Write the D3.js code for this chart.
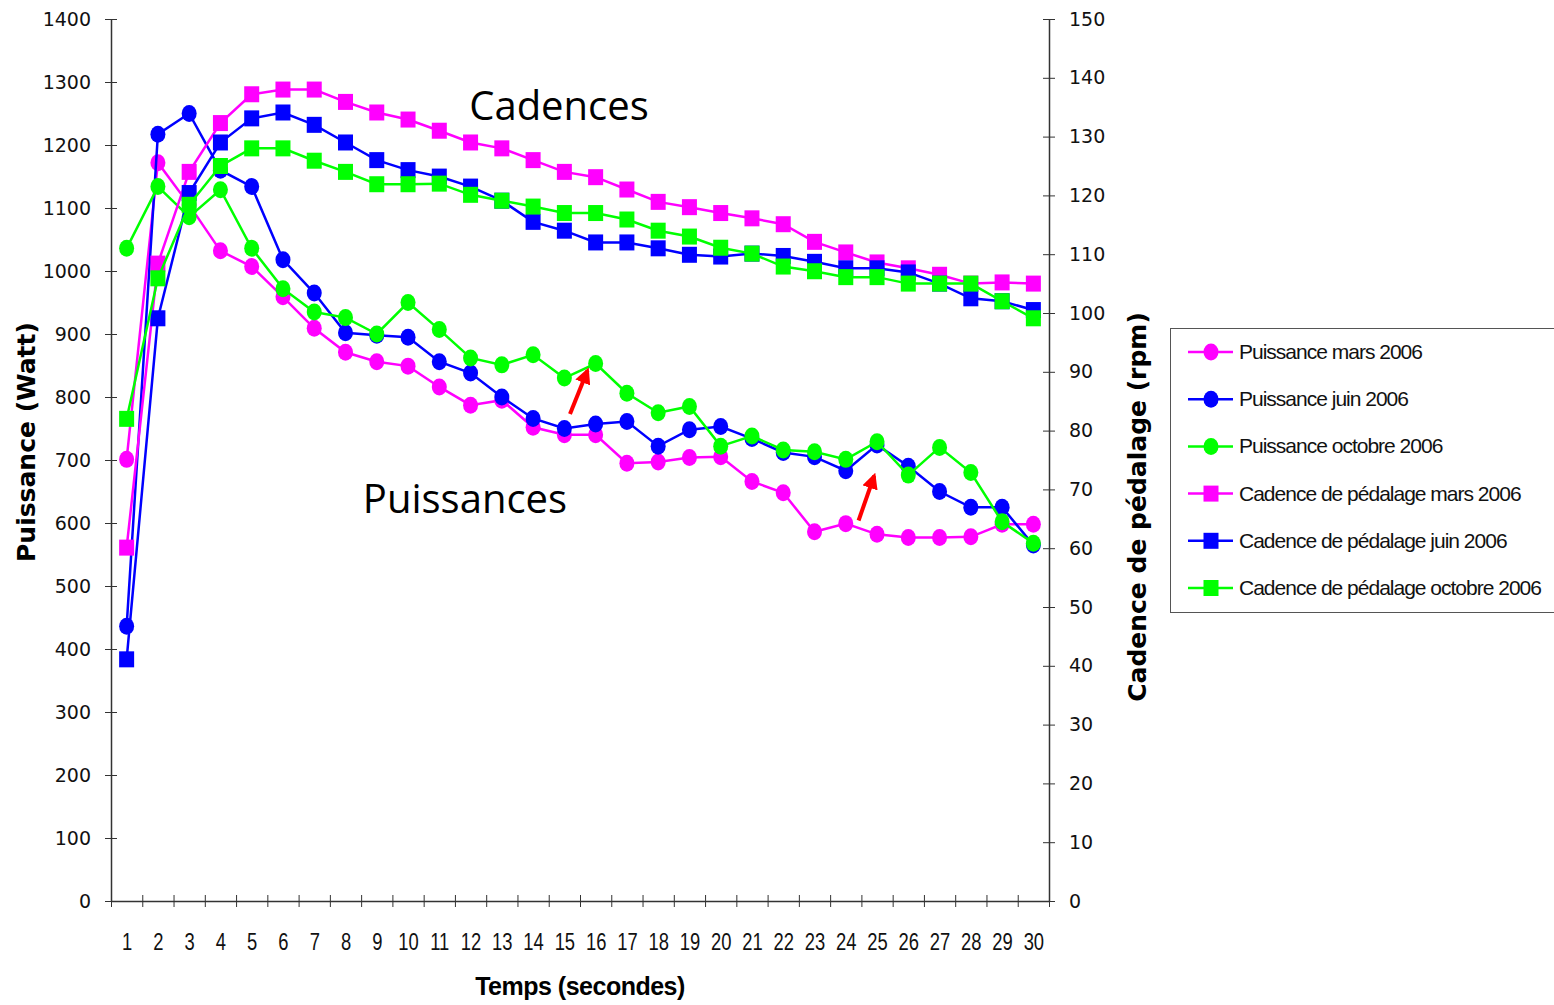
<!DOCTYPE html>
<html>
<head>
<meta charset="utf-8">
<script src="https://cdn.jsdelivr.net/npm/d3@7"></script>
<style>
  body { margin: 0; background: #fff; }
</style>
</head>
<body>
<div id="chart"></div>
<script>
// Temps (secondes)
const times = d3.range(1, 31);

// Puissance (Watt) - left axis
const puissanceMars = [701, 1172, 1105, 1032, 1007, 959, 909, 871, 856, 849, 816, 787, 795, 752, 740, 740, 695, 697, 704, 705, 666, 648, 586, 599, 582, 577, 577, 578, 598, 598];
const puissanceJuin = [436, 1217, 1250, 1160, 1134, 1018, 965, 902, 898, 895, 856, 838, 800, 766, 750, 757, 761, 722, 748, 753, 734, 712, 705, 683, 724, 690, 650, 625, 625, 565];
const puissanceOctobre = [1036, 1134, 1086, 1129, 1036, 972, 935, 926, 900, 950, 907, 862, 851, 867, 830, 853, 806, 775, 785, 722, 738, 716, 713, 701, 729, 676, 720, 680, 602, 568];

// Cadence de pédalage (rpm) - right axis
const cadenceMars = [60.1, 108.4, 124.0, 132.3, 137.2, 138.0, 138.0, 135.9, 134.1, 132.9, 131.0, 129.0, 128.0, 126.0, 124.0, 123.1, 121.0, 118.9, 118.0, 117.0, 116.1, 115.1, 112.1, 110.3, 108.6, 107.6, 106.5, 105.0, 105.2, 105.0];
const cadenceJuin = [41.1, 99.1, 120.4, 129.0, 133.1, 134.1, 132.0, 129.0, 126.0, 124.3, 123.2, 121.5, 119.1, 115.5, 114.0, 112.0, 112.0, 111.0, 109.9, 109.6, 110.1, 109.7, 108.7, 107.6, 107.6, 106.9, 105.0, 102.5, 102.0, 100.5];
const cadenceOctobre = [82.0, 105.9, 118.4, 125.0, 128.0, 128.0, 125.9, 124.0, 121.9, 121.9, 122.0, 120.1, 119.1, 118.1, 117.0, 117.0, 115.9, 114.0, 113.0, 111.1, 110.1, 107.9, 107.1, 106.1, 106.1, 105.0, 105.0, 105.0, 102.0, 99.1];

const seriesNames = [
    "Puissance mars 2006", "Puissance juin 2006", "Puissance octobre 2006",
    "Cadence de pédalage mars 2006", "Cadence de pédalage juin 2006", "Cadence de pédalage octobre 2006"
];

const leftTicks = d3.range(0, 1401, 100);
const rightTicks = d3.range(0, 151, 10);

// red arrows: [time, puissance] tail -> head
const arrows = [
    [[15.18, 773], [15.74, 842]],
    [[24.41, 604], [24.91, 675]]
];

const width = 1554, height = 1005;
const plot = { left: 111, right: 1049, top: 19, bottom: 901 };

const svg = d3.select("#chart")
    .append("svg")
    .attr("width", width)
    .attr("height", height)
    .style("background", "#fff");

// Scales
const x = d3.scaleLinear()
    .domain([0.5, 30.5])
    .range([plot.left, plot.right]);

const yLeft = d3.scaleLinear()
    .domain([0, 1400])
    .range([plot.bottom, plot.top]);

const yRight = d3.scaleLinear()
    .domain([0, 150])
    .range([plot.bottom, plot.top]);

const axisColor = "#333";

// Bottom axis: boundary ticks crossing the line
svg.append("g")
    .attr("transform", `translate(0,${plot.bottom})`)
    .call(d3.axisBottom(x).tickValues(d3.range(0.5, 31, 1)).tickFormat("").tickSizeOuter(0))
    .call(g => g.select(".domain").attr("stroke", axisColor).attr("stroke-width", 1.5))
    .call(g => g.selectAll(".tick line").attr("y1", -6).attr("y2", 6).attr("stroke", axisColor));

// Bottom labels
svg.append("g")
    .attr("transform", `translate(0,${plot.bottom})`)
    .call(d3.axisBottom(x).tickValues(times).tickSize(0))
    .call(g => g.select(".domain").remove())
    .call(g => g.selectAll(".tick text")
        .attr("y", 49)
        .attr("dy", null)
        .attr("transform", "scale(0.8,1)")
        .attr("fill", "#111")
        .attr("font-family", "Liberation Sans, Arial, sans-serif")
        .attr("font-size", 23));

// Left axis
svg.append("g")
    .attr("transform", `translate(${plot.left},0)`)
    .call(d3.axisLeft(yLeft).tickValues(leftTicks).tickFormat(d3.format("d")).tickSizeOuter(0).tickPadding(14))
    .call(g => g.select(".domain").attr("stroke", axisColor).attr("stroke-width", 1.5))
    .call(g => g.selectAll(".tick line").attr("x1", 6).attr("x2", -6).attr("stroke", axisColor))
    .call(g => g.selectAll(".tick text")
        .attr("fill", "#111")
        .attr("font-family", "DejaVu Sans, Verdana, sans-serif")
        .attr("font-size", 19));

// Right axis
svg.append("g")
    .attr("transform", `translate(${plot.right},0)`)
    .call(d3.axisRight(yRight).tickValues(rightTicks).tickFormat(d3.format("d")).tickSizeOuter(0).tickPadding(14))
    .call(g => g.select(".domain").attr("stroke", axisColor).attr("stroke-width", 1.5))
    .call(g => g.selectAll(".tick line").attr("x1", -6).attr("x2", 6).attr("stroke", axisColor))
    .call(g => g.selectAll(".tick text")
        .attr("fill", "#111")
        .attr("font-family", "DejaVu Sans, Verdana, sans-serif")
        .attr("font-size", 19));

// Axis titles
svg.append("text")
    .attr("transform", `translate(35,442) rotate(-90)`)
    .attr("text-anchor", "middle")
    .attr("font-family", "DejaVu Sans, Verdana, sans-serif")
    .attr("font-weight", "bold")
    .attr("font-size", 25)
    .text("Puissance (Watt)");

svg.append("text")
    .attr("transform", `translate(1146,507) rotate(-90)`)
    .attr("text-anchor", "middle")
    .attr("font-family", "DejaVu Sans, Verdana, sans-serif")
    .attr("font-weight", "bold")
    .attr("font-size", 25)
    .text("Cadence de pédalage (rpm)");

svg.append("text")
    .attr("x", (plot.left + plot.right) / 2)
    .attr("y", 995)
    .attr("text-anchor", "middle")
    .attr("font-family", "Liberation Sans, Arial, sans-serif")
    .attr("font-weight", "bold")
    .attr("font-size", 25)
    .attr("letter-spacing", -0.5)
    .text("Temps (secondes)");

// Series
const colors = ["#ff00ff", "#0000ff", "#00ff00"];
const allValues = [puissanceMars, puissanceJuin, puissanceOctobre, cadenceMars, cadenceJuin, cadenceOctobre];
const series = allValues.map((values, i) => ({
    name: seriesNames[i],
    values: values,
    y: i < 3 ? yLeft : yRight,
    shape: i < 3 ? "circle" : "square",
    color: colors[i % 3]
}));

function drawMarker(g, shape, color) {
    if (shape === "circle") {
        g.append("ellipse")
            .attr("rx", 7.5)
            .attr("ry", 8.5)
            .attr("fill", color);
    } else {
        g.append("rect")
            .attr("x", -7.5)
            .attr("y", -8)
            .attr("width", 15)
            .attr("height", 16)
            .attr("fill", color);
    }
}

series.forEach(s => {
    const line = d3.line()
        .x((d, i) => x(times[i]))
        .y(d => s.y(d));

    const g = svg.append("g");
    g.append("path")
        .datum(s.values)
        .attr("fill", "none")
        .attr("stroke", s.color)
        .attr("stroke-width", 2.5)
        .attr("d", line);

    g.selectAll("g.pt")
        .data(s.values)
        .join("g")
        .attr("class", "pt")
        .attr("transform", (d, i) => `translate(${x(times[i])},${s.y(d)})`)
        .each(function() { drawMarker(d3.select(this), s.shape, s.color); });
});

// Annotations
svg.append("text")
    .attr("x", 559)
    .attr("y", 120)
    .attr("text-anchor", "middle")
    .attr("font-family", "Open Sans, sans-serif")
    .attr("font-size", 40)
    .attr("fill", "#000")
    .text("Cadences");

svg.append("text")
    .attr("x", 465)
    .attr("y", 513)
    .attr("text-anchor", "middle")
    .attr("font-family", "Open Sans, sans-serif")
    .attr("font-size", 40)
    .attr("fill", "#000")
    .text("Puissances");

svg.append("defs").append("marker")
    .attr("id", "arrowhead")
    .attr("viewBox", "0 0 10 10")
    .attr("refX", 8)
    .attr("refY", 5)
    .attr("markerWidth", 4)
    .attr("markerHeight", 4)
    .attr("orient", "auto")
    .append("path")
    .attr("d", "M0,0 L10,5 L0,10 z")
    .attr("fill", "#ff0000");

svg.selectAll("line.arrow")
    .data(arrows)
    .join("line")
    .attr("class", "arrow")
    .attr("x1", d => x(d[0][0]))
    .attr("y1", d => yLeft(d[0][1]))
    .attr("x2", d => x(d[1][0]))
    .attr("y2", d => yLeft(d[1][1]))
    .attr("stroke", "#ff0000")
    .attr("stroke-width", 4)
    .attr("marker-end", "url(#arrowhead)");

// Legend
const legend = svg.append("g")
    .attr("transform", "translate(1170,328)");

legend.append("rect")
    .attr("x", 0.5)
    .attr("y", 0.5)
    .attr("width", 400)
    .attr("height", 284)
    .attr("fill", "#fff")
    .attr("stroke", "#555")
    .attr("stroke-width", 1);

series.forEach((s, i) => {
    const row = legend.append("g")
        .attr("transform", `translate(0,${24 + i * 47.2})`);

    row.append("line")
        .attr("x1", 18)
        .attr("x2", 63)
        .attr("stroke", s.color)
        .attr("stroke-width", 2.5);

    const m = row.append("g").attr("transform", "translate(41,0)");
    drawMarker(m, s.shape, s.color);

    row.append("text")
        .attr("x", 69)
        .attr("y", 7)
        .attr("font-family", "Liberation Sans, Arial, sans-serif")
        .attr("font-size", 21)
        .attr("letter-spacing", -1)
        .attr("fill", "#111")
        .text(s.name);
});
</script>
</body>
</html>
